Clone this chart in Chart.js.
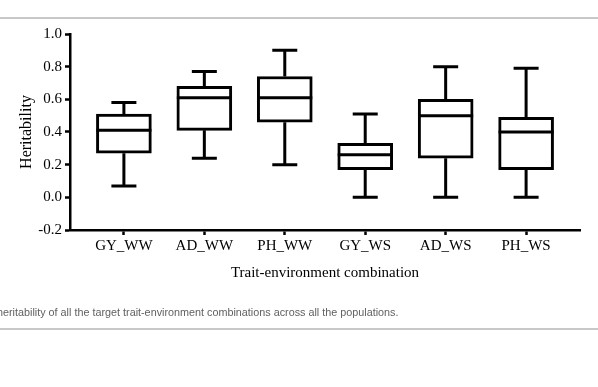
<!DOCTYPE html>
<html><head><meta charset="utf-8">
<script src="https://cdn.jsdelivr.net/npm/chart.js@4/dist/chart.umd.min.js"></script>
<style>
html,body{margin:0;padding:0;background:#fff;width:598px;height:387px;overflow:hidden;position:relative}
#c{position:absolute;left:0;top:0}
.rule{position:absolute;left:0;width:598px;height:0;border-top:2px solid #c8c8c8}
#cap{position:absolute;left:-3px;top:306px;font-family:"Liberation Sans",Arial,sans-serif;font-size:10.8px;color:#606060;white-space:nowrap}
</style></head><body>
<div class="rule" style="top:17px"></div>
<canvas id="c" width="598" height="387"></canvas>
<div id="cap">heritability of all the target trait-environment combinations across all the populations.</div>
<div class="rule" style="top:328px"></div>
<script>
const categories = ["GY_WW", "AD_WW", "PH_WW", "GY_WS", "AD_WS", "PH_WS"];
const minVals    = [0.07, 0.24, 0.20, 0.00, 0.00, 0.00];
const q1Vals     = [0.27, 0.41, 0.46, 0.17, 0.24, 0.17];
const medianVals = [0.41, 0.61, 0.61, 0.26, 0.50, 0.40];
const q3Vals     = [0.51, 0.68, 0.74, 0.33, 0.60, 0.49];
const maxVals    = [0.58, 0.77, 0.90, 0.51, 0.80, 0.79];
const yTicks     = [-0.2, 0.0, 0.2, 0.4, 0.6, 0.8, 1.0];
const yTitle = "Heritability";
const xTitle = "Trait-environment combination";

const serif = '"Liberation Serif","Times New Roman",serif';

const whiskerPlugin = {
  id: 'whiskers',
  afterDatasetsDraw(chart) {
    const ctx = chart.ctx;
    const xs = chart.scales.x, ys = chart.scales.y;
    const boxW = 55, capW = 25;
    ctx.save();
    ctx.strokeStyle = '#000';
    ctx.lineWidth = 3;
    ctx.lineCap = 'butt';
    categories.forEach((c, i) => {
      const x = xs.getPixelForValue(i);
      const yMin = ys.getPixelForValue(minVals[i]);
      const yQ1 = ys.getPixelForValue(q1Vals[i]);
      const yMed = ys.getPixelForValue(medianVals[i]);
      const yQ3 = ys.getPixelForValue(q3Vals[i]);
      const yMax = ys.getPixelForValue(maxVals[i]);
      ctx.beginPath();
      ctx.moveTo(x, yQ3); ctx.lineTo(x, yMax);
      ctx.moveTo(x - capW / 2, yMax); ctx.lineTo(x + capW / 2, yMax);
      ctx.moveTo(x, yQ1); ctx.lineTo(x, yMin);
      ctx.moveTo(x - capW / 2, yMin); ctx.lineTo(x + capW / 2, yMin);
      ctx.moveTo(x - boxW / 2, yMed); ctx.lineTo(x + boxW / 2, yMed);
      ctx.stroke();
    });
    ctx.restore();
  }
};

new Chart(document.getElementById('c'), {
  type: 'bar',
  data: {
    datasets: [{
      data: categories.map((c, i) => ({ x: i, y: [q1Vals[i], q3Vals[i]] })),
      backgroundColor: '#fff',
      borderColor: '#000',
      borderWidth: 3,
      borderSkipped: false,
      barThickness: 55
    }]
  },
  options: {
    responsive: false,
    animation: false,
    layout: { padding: { top: 34, right: 18, left: 0, bottom: 105 } },
    plugins: { legend: { display: false }, tooltip: { enabled: false } },
    scales: {
      x: {
        type: 'linear',
        offset: false,
        min: -0.67, max: 5.67,
        afterBuildTicks(s) { s.ticks = categories.map((c, i) => ({ value: i })); },
        afterFit(s) { s.height = 52; },
        ticks: {
          callback: (v) => categories[v] ?? '',
          font: { family: serif, size: 15 },
          color: '#000',
          padding: 2,
          maxRotation: 0,
          autoSkip: false
        },
        grid: { offset: false, drawOnChartArea: false, drawTicks: true, tickLength: 5, tickColor: '#000', tickWidth: 2.5 },
        border: { color: '#000', width: 2.5 },
        title: { display: true, text: xTitle, font: { family: serif, size: 15 }, color: '#000', padding: { top: 0, bottom: 0 } }
      },
      y: {
        min: -0.2, max: 1.0,
        afterBuildTicks(s) { s.ticks = yTicks.map(v => ({ value: v })); },
        afterFit(s) { s.width = 70; },
        ticks: {
          callback: (v) => Number(v).toFixed(1),
          font: { family: serif, size: 15 },
          color: '#000',
          padding: 3
        },
        grid: { drawOnChartArea: false, drawTicks: true, tickLength: 5, tickColor: '#000', tickWidth: 2.5 },
        border: { color: '#000', width: 2.5 },
        title: { display: true, text: yTitle, font: { family: serif, size: 16 }, color: '#000', padding: { top: 17, bottom: 0 } }
      }
    }
  },
  plugins: [whiskerPlugin]
});
</script>
</body></html>
